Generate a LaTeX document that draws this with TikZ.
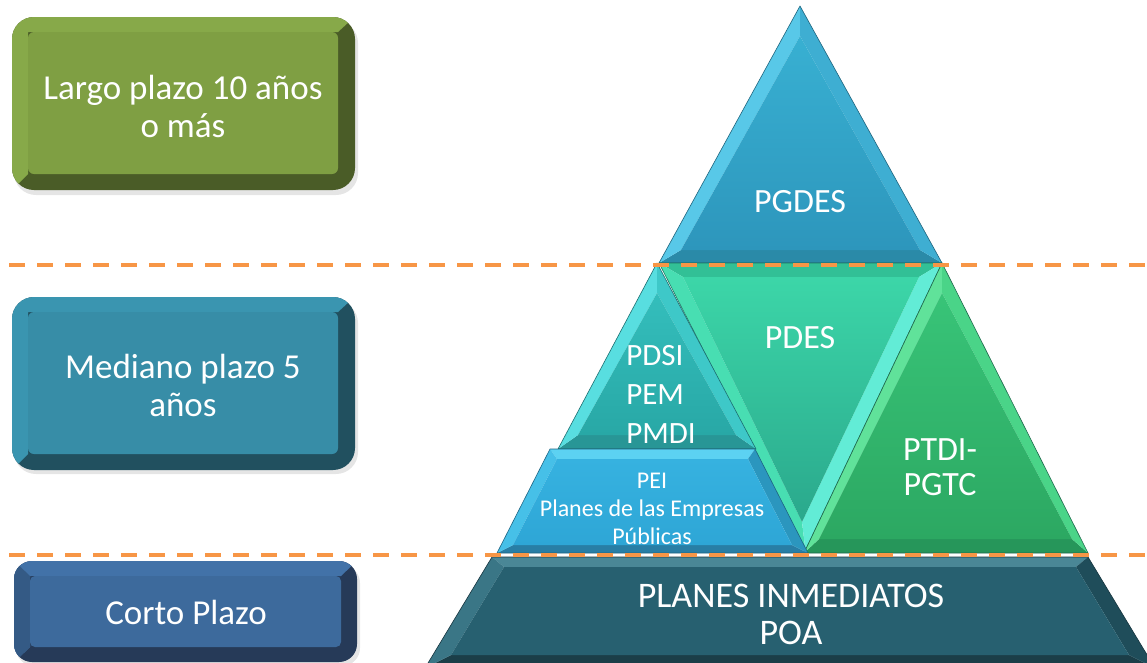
\documentclass[tikz,border=0pt]{standalone}
\usepackage{fontspec}
\setmainfont{Carlito}
\usepackage{tikz}
\usepackage{xcolor}

\definecolor{dashorange}{HTML}{F79646}
\definecolor{lgFace}{HTML}{7F9F43}
\definecolor{lgLight}{HTML}{87A949}
\definecolor{lgDark}{HTML}{4A5C27}
\definecolor{mdFace}{HTML}{378DA7}
\definecolor{mdLight}{HTML}{3A95B0}
\definecolor{mdDark}{HTML}{21505F}
\definecolor{ctFace}{HTML}{3D6A9C}
\definecolor{ctLight}{HTML}{4272A8}
\definecolor{ctMid}{HTML}{345A85}
\definecolor{ctDark}{HTML}{263A58}
\definecolor{pgBot}{HTML}{2A8AA8}
\definecolor{pgLeft}{HTML}{58C8E8}
\definecolor{pgRight}{HTML}{3EAED2}
\definecolor{pgTop}{HTML}{38B0D2}
\definecolor{pgLow}{HTML}{2D96BC}
\definecolor{pgEdge}{HTML}{1E647D}
\definecolor{pdTopF}{HTML}{32C096}
\definecolor{pdLeft}{HTML}{48DEB2}
\definecolor{pdRight}{HTML}{62ECD6}
\definecolor{pdTop}{HTML}{3CD6A8}
\definecolor{pdLow}{HTML}{2AA88C}
\definecolor{pdEdge}{HTML}{1E7864}
\definecolor{psBot}{HTML}{289696}
\definecolor{psLeft}{HTML}{58DEE0}
\definecolor{psRight}{HTML}{3EC8C8}
\definecolor{psTop}{HTML}{34BEBC}
\definecolor{psLow}{HTML}{28A8A6}
\definecolor{psEdge}{HTML}{1C6E70}
\definecolor{ptBot}{HTML}{26965A}
\definecolor{ptLeft}{HTML}{60E29A}
\definecolor{ptRight}{HTML}{4AD488}
\definecolor{ptTop}{HTML}{38C478}
\definecolor{ptLow}{HTML}{2CA862}
\definecolor{ptEdge}{HTML}{1E684C}
\definecolor{peBot}{HTML}{287EA5}
\definecolor{peTopF}{HTML}{5CD2F2}
\definecolor{peLeft}{HTML}{46C0E8}
\definecolor{peRight}{HTML}{2B96BE}
\definecolor{peTop}{HTML}{36B2E0}
\definecolor{peLow}{HTML}{2EA6D6}
\definecolor{peEdge}{HTML}{1E6482}
\definecolor{bsBot}{HTML}{1B3E48}
\definecolor{bsTopF}{HTML}{4A8796}
\definecolor{bsLeft}{HTML}{3A7686}
\definecolor{bsRight}{HTML}{1F4D5A}
\definecolor{bsFace}{HTML}{276070}
\definecolor{bsEdge}{HTML}{16343E}

\begin{document}
\begin{tikzpicture}[x=1pt,y=-1pt,line join=round,
  boxtxt/.style={text=white,align=center,font=\fontsize{35}{38}\selectfont},
  pyrtxt/.style={text=white,align=center,font=\fontsize{34}{35}\selectfont},
  edge/.style={line width=0.6pt}]
\useasboundingbox (0,0) rectangle (1147,662);
\clip (0,0) rectangle (1147,662);
\fill[white] (0,0) rectangle (1147,662);

\fill[black,opacity=0.10,rounded corners=22pt] (14,21) rectangle (358,195);
\fill[lgDark,rounded corners=22pt] (12,17) rectangle (355,190);
\begin{scope}
\clip[rounded corners=22pt] (12,17) rectangle (355,190);
\fill[lgLight] (5,10) -- (362,10) -- (338,32) -- (28,32) -- (28,174) -- (5,197) -- cycle;
\end{scope}
\fill[lgFace,rounded corners=6pt] (28,32) rectangle (338,174);

\fill[black,opacity=0.10,rounded corners=22pt] (14,301) rectangle (358,474);
\fill[mdDark,rounded corners=22pt] (12,297) rectangle (355,470);
\begin{scope}
\clip[rounded corners=22pt] (12,297) rectangle (355,470);
\fill[mdLight] (5,290) -- (362,290) -- (338,312) -- (28,312) -- (28,454) -- (5,477) -- cycle;
\end{scope}
\fill[mdFace,rounded corners=6pt] (28,312) rectangle (338,454);

\fill[black,opacity=0.10,rounded corners=18pt] (16,565) rectangle (360,666);
\fill[ctDark,rounded corners=18pt] (14,561) rectangle (357,662);
\begin{scope}
\clip[rounded corners=18pt] (14,561) rectangle (357,662);
\fill[ctLight] (7,554) -- (364,554) -- (341,576) -- (30,576) -- (30,647) -- (7,669) -- cycle;
\fill[ctMid] (7,554) -- (30,576) -- (30,647) -- (7,669) -- cycle;
\end{scope}
\fill[ctFace,rounded corners=5pt] (30,576) rectangle (341,647);

\fill[pgBot] (659,263) -- (942,263) -- (920,250) -- (681,250) -- cycle;
\fill[pgLeft] (800,6) -- (659,263) -- (681,250) -- (800,36) -- cycle;
\fill[pgRight] (800,6) -- (942,263) -- (920,250) -- (800,36) -- cycle;
\shade[top color=pgTop,bottom color=pgLow] (800,36) -- (681,250) -- (920,250) -- cycle;
\draw[edge,pgEdge] (800,6) -- (659,263) -- (942,263) -- cycle;

\fill[pdTopF] (659,263) -- (942,263) -- (919,277) -- (683,277) -- cycle;
\fill[pdLeft] (659,263) -- (805.4,550) -- (802,522) -- (683,277) -- cycle;
\fill[pdRight] (942,263) -- (805.4,550) -- (802,522) -- (919,277) -- cycle;
\shade[top color=pdTop,bottom color=pdLow] (683,277) -- (919,277) -- (802,522) -- cycle;
\draw[edge,pdEdge] (659,263) -- (942,263) -- (805.4,550) -- cycle;

\fill[psBot] (558,449) -- (756,449) -- (736,435) -- (578,435) -- cycle;
\fill[psLeft] (657,263) -- (558,449) -- (578,435) -- (657,293) -- cycle;
\fill[psRight] (657,263) -- (756,449) -- (736,435) -- (657,293) -- cycle;
\shade[top color=psTop,bottom color=psLow] (657,293) -- (578,435) -- (736,435) -- cycle;
\draw[edge,psEdge] (657,263) -- (558,449) -- (756,449) -- cycle;

\fill[ptBot] (804,553) -- (1088,553) -- (1072,539) -- (819,539) -- cycle;
\fill[ptLeft] (942,263) -- (804,553) -- (819,539) -- (942,293) -- cycle;
\fill[ptRight] (942,263) -- (1088,553) -- (1072,539) -- (942,293) -- cycle;
\shade[top color=ptTop,bottom color=ptLow] (942,293) -- (819,539) -- (1072,539) -- cycle;
\draw[edge,ptEdge] (942,263) -- (804,553) -- (1088,553) -- cycle;

\fill[peBot] (497,553) -- (808,553) -- (792,545) -- (513,545) -- cycle;
\fill[peTopF] (550,449) -- (755,449) -- (748,459) -- (557,459) -- cycle;
\fill[peLeft] (550,449) -- (557,459) -- (513,545) -- (497,553) -- cycle;
\fill[peRight] (755,449) -- (808,553) -- (792,545) -- (748,459) -- cycle;
\shade[top color=peTop,bottom color=peLow] (557,459) -- (748,459) -- (792,545) -- (513,545) -- cycle;
\draw[edge,peEdge] (550,449) -- (755,449) -- (808,553) -- (497,553) -- cycle;

\fill[bsBot] (425,668) -- (1155,668) -- (1129,655) -- (451,655) -- cycle;
\fill[bsTopF] (492,557) -- (1088,557) -- (1076,567) -- (504,567) -- cycle;
\fill[bsLeft] (492,557) -- (504,567) -- (451,655) -- (425,668) -- cycle;
\fill[bsRight] (1088,557) -- (1076,567) -- (1129,655) -- (1155,668) -- cycle;
\fill[bsFace] (504,567) -- (1076,567) -- (1129,655) -- (451,655) -- cycle;
\draw[edge,bsEdge] (492,557) -- (1088,557) -- (1155,668) -- (425,668) -- cycle;

\draw[dashorange,line width=4pt,dash pattern=on 16pt off 12pt] (9,265) -- (1147,265);
\draw[dashorange,line width=4pt,dash pattern=on 16pt off 12pt] (9,555) -- (1147,555);

\node[boxtxt] (largo) at (183,106) {Largo plazo 10 años\\o más};
\node[boxtxt] (mediano) at (183,385) {Mediano plazo 5\\años};
\node[boxtxt] (corto) at (186,612) {Corto Plazo};
\node[pyrtxt] (pgdes) at (800,202) {PGDES};
\node[pyrtxt] (pdes) at (800,338) {PDES};
\node[pyrtxt,align=left,font=\fontsize{31}{39}\selectfont] (pdsi) at (661,394) {PDSI\\PEM\\PMDI};
\node[pyrtxt,font=\fontsize{24}{28}\selectfont] (pei) at (652,509) {PEI\\Planes de las Empresas\\Públicas};
\node[pyrtxt] (ptdi) at (940,467) {PTDI-\\PGTC};
\node[pyrtxt,font=\fontsize{36}{37}\selectfont] (poa) at (791,614) {PLANES INMEDIATOS\\POA};
\end{tikzpicture}
\end{document}
